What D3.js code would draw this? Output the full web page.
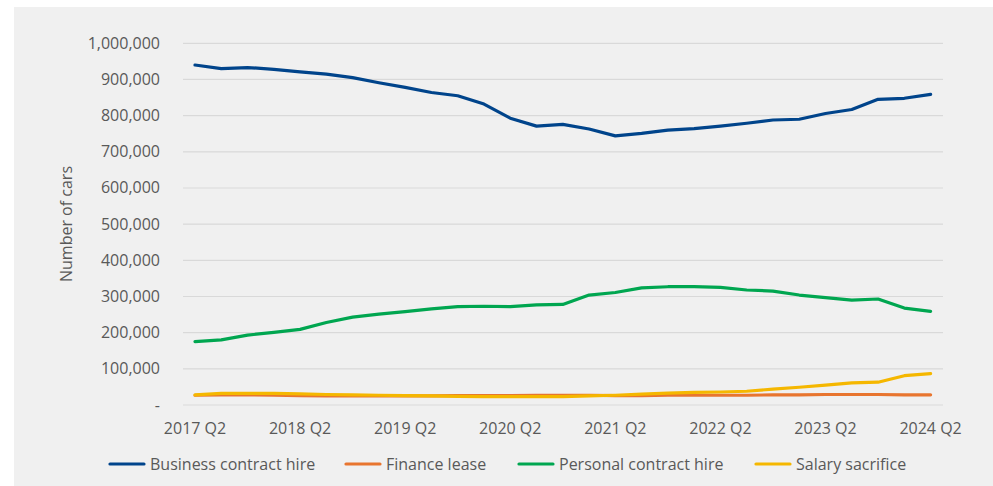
<!DOCTYPE html>
<html>
<head>
<meta charset="utf-8">
<script src="https://cdn.jsdelivr.net/npm/d3@7"></script>
<style>
  body { margin: 0; background: #fff; }
  text { font-family: "Open Sans", sans-serif; fill: #595959; }
</style>
</head>
<body>
<svg id="chart" width="993" height="486"></svg>
<script>
// quarters 2017 Q2 .. 2024 Q2
var quarters = [];
for (var yr = 2017; yr <= 2024; yr++) {
  [1, 2, 3, 4].forEach(function(q) {
    if ((yr == 2017 && q < 2) || (yr == 2024 && q > 2)) return;
    quarters.push(yr + " Q" + q);
  });
}
var tickLabels = ["2017 Q2","2018 Q2","2019 Q2","2020 Q2","2021 Q2","2022 Q2","2023 Q2","2024 Q2"];

var businessHire = [940000,930000,933000,928000,921000,915000,905000,891000,878000,864000,855000,832000,793000,771000,776000,763000,744000,751000,760000,764000,771000,779000,788000,790000,806000,817000,845000,848000,859000];
var financeLease = [27000,28000,28000,27000,26000,25000,25000,25000,25000,25000,26000,26000,26000,27000,27000,27000,26000,26000,27000,27000,27000,27000,28000,28000,29000,29000,29000,28000,28000];
var personalHire = [175000,180000,193000,201000,209000,228000,243000,251000,258000,266000,272000,273000,272000,277000,278000,304000,311000,324000,327000,327000,325000,318000,315000,304000,297000,290000,293000,268000,259000];
var salarySacrifice = [28000,32000,32000,32000,31000,29000,28000,27000,26000,25000,24000,23000,23000,23000,23000,25000,27000,30000,33000,35000,36000,38000,44000,49000,55000,61000,63000,81000,87000];

var seriesNames = ["Business contract hire","Finance lease","Personal contract hire","Salary sacrifice"];
var seriesColors = ["#00448b","#e8752f","#00a650","#f5b700"];
var yTicks = [0,100000,200000,300000,400000,500000,600000,700000,800000,900000,1000000];

var svg = d3.select("#chart");

svg.append("rect")
  .attr("x",14).attr("y",7)
  .attr("width",979).attr("height",479)
  .attr("fill","#f0f0f0");

var x = d3.scalePoint()
  .domain(quarters)
  .range([195,930.6]);

var y = d3.scaleLinear()
  .domain([0,1000000])
  .range([405,43.3]);

// gridlines
svg.append("g")
  .selectAll("line")
  .data(yTicks)
  .enter()
  .append("line")
  .attr("x1",183).attr("x2",943)
  .attr("y1",function(d){return y(d);})
  .attr("y2",function(d){return y(d);})
  .attr("stroke","#d9d9d9")
  .attr("stroke-width",1.2);

// y labels
var fmt = d3.format(",");
svg.append("g")
  .selectAll("text")
  .data(yTicks)
  .enter()
  .append("text")
  .attr("x",160)
  .attr("y",function(d){return y(d)+5.5;})
  .attr("text-anchor","end")
  .style("font-size","16px")
  .text(function(d){return d == 0 ? "-" : fmt(d);});

// x labels
svg.append("g")
  .selectAll("text")
  .data(tickLabels)
  .enter()
  .append("text")
  .attr("x",function(d){return x(d);})
  .attr("y",434)
  .attr("text-anchor","middle")
  .style("font-size","16px")
  .text(function(d){return d;});

svg.append("text")
  .attr("transform","translate(72,224) rotate(-90)")
  .attr("text-anchor","middle")
  .style("font-size","16px")
  .text("Number of cars");

var line = d3.line()
  .x(function(d,i){return x(quarters[i]);})
  .y(function(d){return y(d);});

var allSeries = [businessHire, financeLease, personalHire, salarySacrifice];
allSeries.forEach(function(vals,i) {
  svg.append("path")
    .datum(vals)
    .attr("d",line)
    .attr("fill","none")
    .attr("stroke",seriesColors[i])
    .attr("stroke-width",3.2)
    .attr("stroke-linejoin","round")
    .attr("stroke-linecap","round");
});

// legend
var legendX = [110,346,519,756];
var legend = svg.append("g");
seriesNames.forEach(function(name,i) {
  legend.append("line")
    .attr("x1",legendX[i]).attr("x2",legendX[i]+34)
    .attr("y1",464).attr("y2",464)
    .attr("stroke",seriesColors[i])
    .attr("stroke-width",3.2)
    .attr("stroke-linecap","round");
  legend.append("text")
    .attr("x",legendX[i]+40)
    .attr("y",469.5)
    .style("font-size","16px")
    .text(name);
});
</script>
</body>
</html>
